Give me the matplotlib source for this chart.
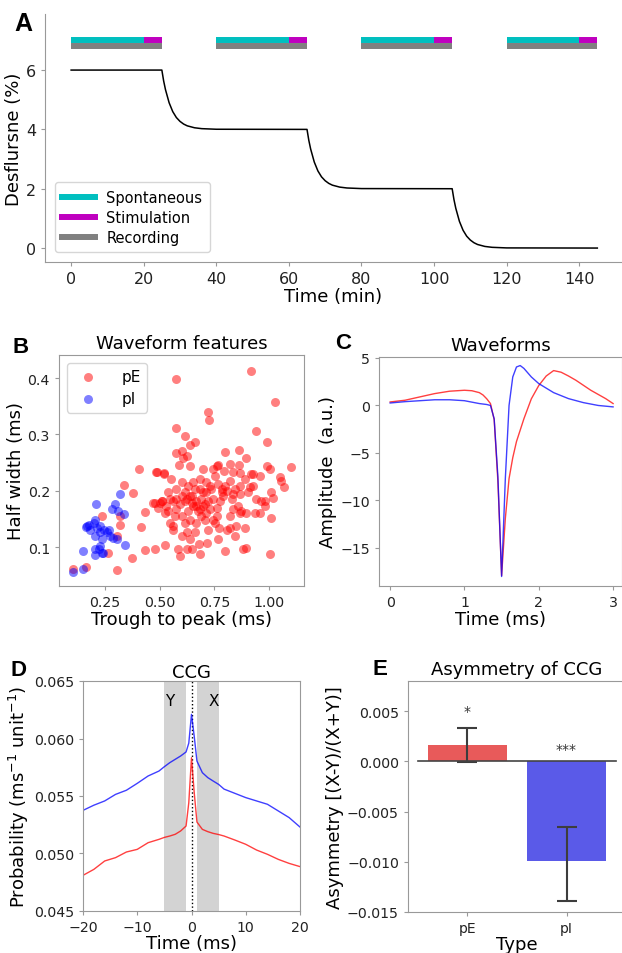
import numpy as np
import matplotlib
matplotlib.use('Agg')
from matplotlib import pyplot as plt

# ---- panel A: desflurane protocol
desf_time = [0, 25, 25.5, 26, 27, 28, 29, 30, 31, 32, 34, 36, 40,
             65, 65.5, 66, 67, 68, 69, 70, 71, 72, 74, 76, 80,
             105, 105.5, 106, 107, 108, 109, 110, 111, 112, 114, 116, 120, 145]
desf_level = [6, 6, 5.63, 5.34, 4.90, 4.60, 4.40, 4.27, 4.18, 4.12, 4.055, 4.025, 4.005,
              4, 3.63, 3.34, 2.90, 2.60, 2.40, 2.27, 2.18, 2.12, 2.055, 2.025, 2.005,
              2, 1.63, 1.34, 0.90, 0.60, 0.40, 0.27, 0.18, 0.12, 0.055, 0.025, 0.005, 0]
rec_start = [0, 40, 80, 120]
stim_start = [20, 60, 100, 140]
rec_end = [25, 65, 105, 145]

# ---- panel B: waveform features
pE_ttp = [0.102, 0.163, 0.235, 0.265, 0.303, 0.306, 0.318, 0.321, 0.337, 0.376, 0.373, 0.407,
          0.417, 0.431, 0.433, 0.478, 0.486, 0.471, 0.519, 0.524, 0.513,
          0.577, 0.919, 1.026, 0.722, 0.726, 0.577, 0.614, 0.942, 0.991, 0.638, 0.662, 0.798,
          0.863, 0.897, 0.577, 0.600, 0.608, 0.626, 0.589, 0.638, 0.483, 0.522, 0.699, 0.744,
          0.767, 0.793, 0.863, 0.866, 0.919, 0.991, 1.006, 1.100, 1.049,
          0.554, 0.577, 0.600, 0.615, 0.630, 0.646, 0.661, 0.668, 0.684, 0.699, 0.714, 0.737,
          0.752, 0.767, 0.783, 0.798, 0.821, 0.843, 0.866, 0.889, 0.904, 0.927, 0.942, 0.965,
          0.980, 1.011, 1.018, 1.056, 1.067, 1.009, 1.004, 0.897, 0.882, 0.889, 0.866, 0.859,
          0.874, 0.897, 0.843, 0.821, 0.806, 0.801, 0.767, 0.772, 0.760, 0.752, 0.730, 0.722,
          0.717, 0.699, 0.684, 0.680, 0.684, 0.668, 0.661, 0.653, 0.646, 0.638, 0.630, 0.623,
          0.615, 0.600, 0.595, 0.584, 0.577, 0.569, 0.562, 0.559, 0.547, 0.539, 0.531, 0.524,
          0.509, 0.493, 0.478, 0.562, 0.592, 0.615, 0.638, 0.646, 0.668, 0.676, 0.691, 0.707,
          0.722, 0.745, 0.775, 0.790, 0.806, 0.829, 0.836, 0.866, 0.912, 0.935, 0.958, 0.980,
          0.927, 0.958, 0.836, 0.821, 0.760, 0.783, 0.730, 0.714, 0.684, 0.653, 0.623, 0.600,
          0.577, 0.547, 0.539, 0.501, 0.760, 0.745, 0.707, 0.691, 0.638, 0.600, 0.623, 0.714,
          0.821, 0.836, 0.851]
pE_hw = [0.061, 0.064, 0.155, 0.090, 0.120, 0.059, 0.156, 0.140, 0.211, 0.196, 0.081, 0.238,
         0.136, 0.163, 0.095, 0.096, 0.234, 0.179, 0.231, 0.104, 0.182,
         0.399, 0.412, 0.357, 0.339, 0.326, 0.312, 0.297, 0.306, 0.286, 0.282, 0.286, 0.269,
         0.273, 0.258, 0.267, 0.270, 0.259, 0.261, 0.246, 0.244, 0.234, 0.230, 0.238, 0.238,
         0.246, 0.236, 0.246, 0.231, 0.230, 0.244, 0.238, 0.243, 0.224,
         0.221, 0.203, 0.215, 0.197, 0.209, 0.191, 0.203, 0.182, 0.221, 0.197, 0.215, 0.203,
         0.227, 0.212, 0.197, 0.209, 0.218, 0.203, 0.209, 0.221, 0.197, 0.230, 0.185, 0.182,
         0.173, 0.197, 0.188, 0.218, 0.206, 0.152, 0.087, 0.099, 0.096, 0.134, 0.161, 0.173,
         0.164, 0.161, 0.120, 0.134, 0.131, 0.094, 0.114, 0.134, 0.170, 0.143, 0.167, 0.131,
         0.108, 0.173, 0.167, 0.105, 0.087, 0.143, 0.126, 0.173, 0.096, 0.114, 0.164, 0.126,
         0.143, 0.120, 0.085, 0.096, 0.167, 0.155, 0.137, 0.131, 0.143, 0.164, 0.173, 0.161,
         0.182, 0.170, 0.179, 0.182, 0.176, 0.182, 0.191, 0.179, 0.173, 0.164, 0.185, 0.176,
         0.182, 0.185, 0.182, 0.191, 0.200, 0.185, 0.194, 0.194, 0.206, 0.161, 0.161, 0.182,
         0.209, 0.227, 0.233, 0.247, 0.244, 0.203, 0.209, 0.197, 0.203, 0.215, 0.185, 0.191,
         0.185, 0.185, 0.197, 0.179, 0.155, 0.149, 0.149, 0.155, 0.149, 0.155, 0.096, 0.161,
         0.155, 0.167, 0.137]
pI_ttp = [0.105, 0.148, 0.151, 0.163, 0.169, 0.178, 0.209, 0.203, 0.200, 0.212, 0.206, 0.203,
          0.206, 0.227, 0.227, 0.235, 0.242, 0.245, 0.261, 0.273, 0.280, 0.288, 0.296, 0.303,
          0.311, 0.318, 0.337, 0.341, 0.227, 0.221, 0.181, 0.236, 0.267]
pI_hw = [0.055, 0.061, 0.094, 0.136, 0.137, 0.139, 0.176, 0.149, 0.143, 0.134, 0.120, 0.096,
         0.086, 0.137, 0.126, 0.114, 0.090, 0.131, 0.126, 0.120, 0.167, 0.117, 0.176, 0.114,
         0.164, 0.194, 0.158, 0.104, 0.102, 0.096, 0.131, 0.090, 0.131]

# ---- panel C: mean waveforms
wf_time_pE = [0, 0.2, 0.4, 0.6, 0.8, 1.0, 1.1, 1.2, 1.25, 1.3, 1.35, 1.4, 1.45, 1.5,
              1.55, 1.6, 1.65, 1.7, 1.8, 1.9, 2.0, 2.1, 2.2, 2.3, 2.4, 2.5, 2.7, 2.9, 3.0]
wf_pE = [0.37, 0.55, 0.9, 1.25, 1.5, 1.6, 1.55, 1.35, 1.1, 0.7, 0.2, -1.5, -8.0, -17.9,
         -11.9, -7.7, -5.5, -3.8, -1.4, 0.7, 2.1, 3.1, 3.67, 3.5, 3.1, 2.65, 1.6, 0.72, 0.2]
wf_time_pI = [0, 0.2, 0.4, 0.6, 0.8, 1.0, 1.2, 1.3, 1.35, 1.4, 1.45, 1.5, 1.55, 1.6,
              1.65, 1.7, 1.75, 1.8, 1.9, 2.0, 2.2, 2.4, 2.6, 2.8, 3.0]
wf_pI = [0.26, 0.4, 0.5, 0.6, 0.6, 0.5, 0.2, 0.1, 0.0, -1.4, -7.5, -18.0, -7.7, 0.0,
         3.0, 4.05, 4.2, 3.9, 3.0, 2.3, 1.35, 0.72, 0.3, 0.0, -0.15]

# ---- panel D: CCG
ccg_lag = [-20, -18, -16, -14, -12, -10, -8, -6, -5, -4, -3, -2, -1, -0.5, 0,
           0.5, 1, 2, 3, 4, 5, 6, 8, 10, 12, 14, 16, 18, 20]
ccg_pI = [0.05375, 0.0542, 0.05457, 0.05514, 0.0555, 0.0561, 0.05674, 0.05717, 0.05755,
          0.0579, 0.05819, 0.05848, 0.05883, 0.0596, 0.0621, 0.0602, 0.05804, 0.05703,
          0.0566, 0.0563, 0.05601, 0.0556, 0.05523, 0.05486, 0.05457, 0.05428, 0.0537,
          0.05312, 0.0523]
ccg_pE = [0.0481, 0.04862, 0.04935, 0.04964, 0.05013, 0.05036, 0.05094, 0.05123, 0.0514,
          0.05152, 0.05167, 0.05196, 0.05239, 0.05442, 0.05833, 0.0553, 0.05274, 0.0521,
          0.0519, 0.05175, 0.05165, 0.05152, 0.05117, 0.0508, 0.0503, 0.04993, 0.04949,
          0.04914, 0.04886]

# ---- panel E: asymmetry
types = ['pE', 'pI']
asym_mean = [0.0016, -0.0099]
asym_lo = [-0.0001, -0.0139]
asym_hi = [0.0033, -0.0065]
asym_stars = ['*', '***']
star_y = [0.0050, 0.0012]

plt.rcParams['font.family'] = 'DejaVu Sans'
plt.rcParams['axes.edgecolor'] = '#999999'
plt.rcParams['xtick.color'] = '#999999'
plt.rcParams['ytick.color'] = '#999999'
plt.rcParams['xtick.labelcolor'] = '#222222'
plt.rcParams['ytick.labelcolor'] = '#222222'
plt.rcParams['xtick.major.size'] = 3
plt.rcParams['ytick.major.size'] = 3

W, H = 622, 954
fig = plt.figure(figsize=(W / 100, H / 100), dpi=100)


def box(l, t, r, b):
    return [l / W, 1 - b / H, (r - l) / W, (b - t) / H]


lab_fs = 13
tick_fs = 10.2

# A
axA = fig.add_axes(box(45, 15, 622, 263))
for s, e, m in zip(rec_start, rec_end, stim_start):
    axA.plot([s, e], [6.8, 6.8], color='gray', lw=4.3, solid_capstyle='butt')
    axA.plot([s, m], [7.0, 7.0], color='c', lw=4.3, solid_capstyle='butt')
    axA.plot([m, e], [7.0, 7.0], color='m', lw=4.3, solid_capstyle='butt')
axA.plot(desf_time, desf_level, color='k', lw=1.1)
axA.plot([], [], color='c', lw=4.3, label='Spontaneous')
axA.plot([], [], color='m', lw=4.3, label='Stimulation')
axA.plot([], [], color='gray', lw=4.3, label='Recording')
axA.set_xlim(-7.2, 151.8)
axA.set_ylim(-0.47, 7.89)
axA.set_yticks([0, 2, 4, 6])
axA.set_xticks(range(0, 141, 20))
axA.spines['top'].set_visible(False)
axA.spines['right'].set_visible(False)
axA.tick_params(labelsize=11.5)
axA.set_xlabel('Time (min)', fontsize=lab_fs, labelpad=1)
axA.set_ylabel('Desflursne (%)', fontsize=lab_fs, labelpad=2)
axA.legend(loc='lower left', fontsize=10.5, handlelength=2.2, borderpad=0.5,
           labelspacing=0.35, bbox_to_anchor=(0.005, 0.01))

# B
axB = fig.add_axes(box(59, 356, 304, 587))
axB.scatter(pE_ttp, pE_hw, s=42, color='r', alpha=0.5, lw=0, label='pE')
axB.scatter(pI_ttp, pI_hw, s=42, color='b', alpha=0.5, lw=0, label='pI')
axB.set_xlim(0.04, 1.16)
axB.set_ylim(0.031, 0.441)
axB.set_xticks([0.25, 0.5, 0.75, 1.0])
axB.set_yticks([0.1, 0.2, 0.3, 0.4])
axB.tick_params(labelsize=tick_fs)
axB.set_xlabel('Trough to peak (ms)', fontsize=lab_fs, labelpad=1)
axB.set_ylabel('Half width (ms)', fontsize=lab_fs, labelpad=2)
axB.set_title('Waveform features', fontsize=lab_fs, pad=5)
axB.legend(loc='upper left', fontsize=11, handletextpad=1.2, borderpad=0.4)

# C
axC = fig.add_axes(box(379, 358, 622, 587))
axC.plot(wf_time_pE, wf_pE, color='r', lw=1, alpha=0.75)
axC.plot(wf_time_pI, wf_pI, color='b', lw=1, alpha=0.75)
axC.set_xlim(-0.15, 3.12)
axC.set_ylim(-19.0, 5.1)
axC.set_xticks([0, 1, 2, 3])
axC.set_yticks([-15, -10, -5, 0, 5])
axC.tick_params(labelsize=tick_fs)
axC.set_xlabel('Time (ms)', fontsize=lab_fs, labelpad=1)
axC.set_ylabel('Amplitude  (a.u.)', fontsize=lab_fs, labelpad=2)
axC.set_title('Waveforms', fontsize=lab_fs, pad=5)

# D
axD = fig.add_axes(box(83, 682, 300, 912))
axD.axvspan(-5, -1, color='lightgray', lw=0)
axD.axvspan(1, 5, color='lightgray', lw=0)
axD.axvline(0, color='k', ls=':', lw=1)
axD.plot(ccg_lag, ccg_pI, color='b', lw=1, alpha=0.75)
axD.plot(ccg_lag, ccg_pE, color='r', lw=1, alpha=0.75)
axD.text(-4.1, 0.0633, 'Y', ha='center', va='center', fontsize=11)
axD.text(4.1, 0.0633, 'X', ha='center', va='center', fontsize=11)
axD.set_xlim(-20, 20)
axD.set_ylim(0.045, 0.065)
axD.set_xticks([-20, -10, 0, 10, 20])
axD.set_yticks([0.045, 0.05, 0.055, 0.06, 0.065])
axD.set_yticklabels(['0.045', '0.050', '0.055', '0.060', '0.065'])
axD.tick_params(labelsize=tick_fs)
axD.set_xlabel('Time (ms)', fontsize=lab_fs, labelpad=0)
axD.set_ylabel('Probability (ms$^{-1}$ unit$^{-1}$)', fontsize=lab_fs, labelpad=2)
axD.set_title('CCG', fontsize=lab_fs, pad=3)

# E
axE = fig.add_axes(box(408, 682, 626, 913))
xpos = np.arange(len(types))
err = [np.array(asym_mean) - np.array(asym_lo), np.array(asym_hi) - np.array(asym_mean)]
axE.bar(xpos, asym_mean, width=0.8, color=['#e85a5a', '#5a5ae8'])
axE.errorbar(xpos, asym_mean, yerr=err, fmt='none', ecolor='#3d3d3d', lw=1.5,
             capsize=7.5, capthick=1.5)
axE.plot([-0.5, 1.5], [0, 0], color='#444444', lw=1.2)
for x, st, sy in zip(xpos, asym_stars, star_y):
    axE.text(x, sy, st, ha='center', va='center', fontsize=10, color='#333333')
axE.set_xlim(-0.6, 1.6)
axE.set_ylim(-0.015, 0.008)
axE.set_xticks(xpos)
axE.set_xticklabels(types)
axE.set_yticks([-0.015, -0.01, -0.005, 0, 0.005])
axE.set_yticklabels(['\u22120.015', '\u22120.010', '\u22120.005', '0.000', '0.005'])
axE.tick_params(labelsize=tick_fs)
axE.tick_params(axis='x', labelsize=10)
axE.set_xlabel('Type', fontsize=lab_fs, labelpad=0)
axE.set_ylabel('Asymmetry [(X-Y)/(X+Y)]', fontsize=lab_fs, labelpad=2)
axE.set_title('Asymmetry of CCG', fontsize=lab_fs, pad=5)

# panel letters
for letter, x, y, fs in [('A', 14, 31, 18), ('B', 12, 353, 16), ('C', 335, 349, 16),
                         ('D', 11, 676, 16), ('E', 372, 675, 16)]:
    fig.text(x / W, 1 - y / H, letter, fontsize=fs, fontweight='bold',
             family='Liberation Sans', ha='left', va='baseline')

fig.savefig('out.png', dpi=100)
